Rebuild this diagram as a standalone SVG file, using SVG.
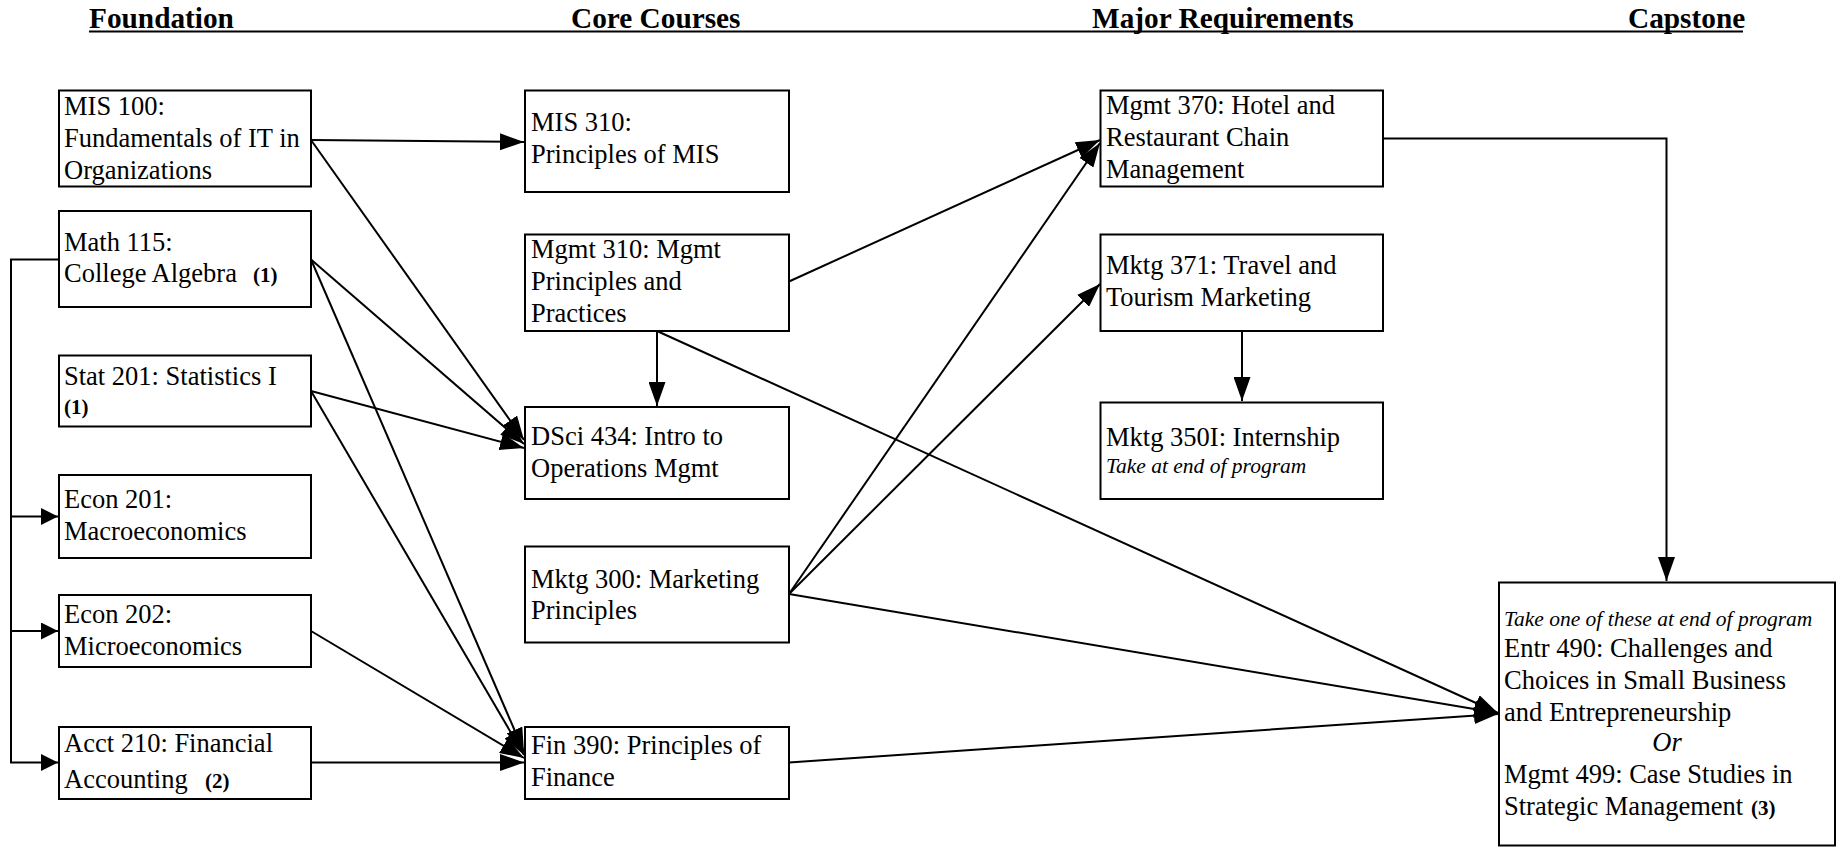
<svg xmlns="http://www.w3.org/2000/svg" width="1842" height="847" viewBox="0 0 1842 847">
<style>
text{font-family:"Liberation Serif","Times New Roman",serif;fill:#000}
.t{font-size:26.5px}
.h{font-size:29.3px;font-weight:bold}
.i{font-size:21.5px;font-style:italic}
.n{font-size:21px;font-weight:bold}
.box{fill:#fff;stroke:#000;stroke-width:2}
.c{fill:none;stroke:#000;stroke-width:2;marker-end:url(#ah)}
.s{fill:none;stroke:#000;stroke-width:2;marker-end:url(#ahs)}
</style>
<defs>
<marker id="ah" markerUnits="userSpaceOnUse" markerWidth="24" markerHeight="17" refX="24" refY="8.5" orient="auto">
<path d="M0,0 L24,8.5 L0,17 z" fill="#000"/>
</marker>
<marker id="ahs" markerUnits="userSpaceOnUse" markerWidth="17" markerHeight="17" refX="17" refY="8.5" orient="auto">
<path d="M0,0 L17,8.5 L0,17 z" fill="#000"/>
</marker>
</defs>
<rect width="1842" height="847" fill="#fff"/>
<g id="headers">
<text class="h" x="89" y="28">Foundation</text>
<text class="h" x="571" y="28">Core Courses</text>
<text class="h" x="1092" y="28">Major Requirements</text>
<text class="h" x="1628" y="28">Capstone</text>
<line x1="89" y1="31.5" x2="1743" y2="31.5" stroke="#000" stroke-width="2"/>
</g>
<g id="connectors">
<path class="s" d="M59,259.5 H11 V762.5 H58"/>
<path class="s" d="M11,516.5 H58"/>
<path class="s" d="M11,631 H58"/>
<path class="c" d="M311,140 L524,142"/>
<path class="c" d="M311,140 L524,440"/>
<path class="c" d="M311,259.5 L524,444"/>
<path class="c" d="M311,259.5 L524,752"/>
<path class="c" d="M311,391 L524,448"/>
<path class="c" d="M311,391 L524,755"/>
<path class="c" d="M311,631 L524,758"/>
<path class="c" d="M311,762.5 L524,762.5"/>
<path class="c" d="M657,331 V406"/>
<path class="c" d="M789,281.5 L1100,140"/>
<path class="c" d="M657,331 L1498,713"/>
<path class="c" d="M789,594 L1100,143"/>
<path class="c" d="M789,594 L1100,284"/>
<path class="c" d="M789,594 L1498,713"/>
<path class="c" d="M789,762.5 L1498,714"/>
<path class="c" d="M1383,138.5 H1666.5 V581"/>
<path class="c" d="M1242,331 V401"/>
</g>
<g id="mis100"><rect class="box" x="59" y="90.5" width="252" height="96"/>
<text class="t" x="64" y="115">MIS 100:</text><text class="t" x="64" y="147">Fundamentals of IT in</text><text class="t" x="64" y="179">Organizations</text></g>
<g id="math115"><rect class="box" x="59" y="211" width="252" height="96"/>
<text class="t" x="64" y="250.5">Math 115:</text><text class="t" x="64" y="282">College Algebra</text><text class="n" x="253" y="282">(1)</text></g>
<g id="stat201"><rect class="box" x="59" y="355.5" width="252" height="71"/>
<text class="t" x="64" y="385">Stat 201: Statistics I</text><text class="n" x="64" y="414">(1)</text></g>
<g id="econ201"><rect class="box" x="59" y="475" width="252" height="83"/>
<text class="t" x="64" y="508">Econ 201:</text><text class="t" x="64" y="540">Macroeconomics</text></g>
<g id="econ202"><rect class="box" x="59" y="595" width="252" height="72"/>
<text class="t" x="64" y="623">Econ 202:</text><text class="t" x="64" y="655">Microeconomics</text></g>
<g id="acct210"><rect class="box" x="59" y="727" width="252" height="72"/>
<text class="t" x="64" y="752">Acct 210: Financial</text><text class="t" x="64" y="788">Accounting</text><text class="n" x="205" y="788">(2)</text></g>
<g id="mis310"><rect class="box" x="525" y="90.5" width="264" height="101.5"/>
<text class="t" x="531" y="131">MIS 310:</text><text class="t" x="531" y="163">Principles of MIS</text></g>
<g id="mgmt310"><rect class="box" x="525" y="234.5" width="264" height="96.5"/>
<text class="t" x="531" y="258">Mgmt 310: Mgmt</text><text class="t" x="531" y="290">Principles and</text><text class="t" x="531" y="322">Practices</text></g>
<g id="dsci434"><rect class="box" x="525" y="407" width="264" height="92"/>
<text class="t" x="531" y="445">DSci 434: Intro to</text><text class="t" x="531" y="477">Operations Mgmt</text></g>
<g id="mktg300"><rect class="box" x="525" y="546.5" width="264" height="96"/>
<text class="t" x="531" y="588">Mktg 300: Marketing</text><text class="t" x="531" y="619">Principles</text></g>
<g id="fin390"><rect class="box" x="525" y="727" width="264" height="72"/>
<text class="t" x="531" y="754">Fin 390: Principles of</text><text class="t" x="531" y="786">Finance</text></g>
<g id="mgmt370"><rect class="box" x="1100.5" y="90.5" width="282.5" height="96"/>
<text class="t" x="1106" y="114">Mgmt 370: Hotel and</text><text class="t" x="1106" y="146">Restaurant Chain</text><text class="t" x="1106" y="178">Management</text></g>
<g id="mktg371"><rect class="box" x="1100.5" y="234.5" width="282.5" height="96.5"/>
<text class="t" x="1106" y="274">Mktg 371: Travel and</text><text class="t" x="1106" y="306">Tourism Marketing</text></g>
<g id="mktg350i"><rect class="box" x="1100.5" y="402.5" width="282.5" height="96.5"/>
<text class="t" x="1106" y="446">Mktg 350I: Internship</text><text class="i" x="1106" y="473">Take at end of program</text></g>
<g id="capstone"><rect class="box" x="1499" y="582.5" width="336" height="263"/>
<text class="i" x="1504" y="626">Take one of these at end of program</text>
<text class="t" x="1504" y="657">Entr 490: Challenges and</text>
<text class="t" x="1504" y="689">Choices in Small Business</text>
<text class="t" x="1504" y="721">and Entrepreneurship</text>
<text class="t" x="1667" y="751" font-style="italic" text-anchor="middle">Or</text>
<text class="t" x="1504" y="783">Mgmt 499: Case Studies in</text>
<text class="t" x="1504" y="815">Strategic Management</text><text class="n" x="1751" y="815">(3)</text></g>
</svg>
